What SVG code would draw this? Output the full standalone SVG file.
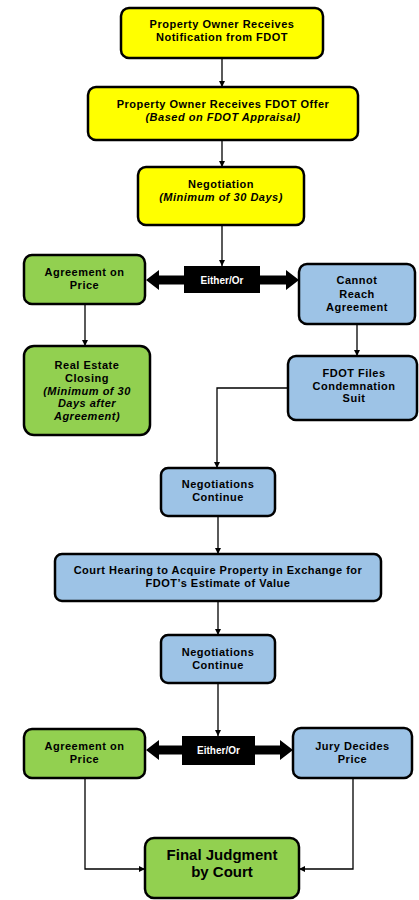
<svg xmlns="http://www.w3.org/2000/svg" width="419" height="900" viewBox="0 0 419 900">
<defs>
<marker id="ah" viewBox="0 0 10 10" refX="10" refY="5" markerWidth="6" markerHeight="6" markerUnits="userSpaceOnUse" orient="auto"><path d="M0,0 L10,5 L0,10 z" fill="#000"/></marker>
</defs>
<style>
.box{stroke:#000;stroke-width:2.5}
.y{fill:#ffff00}.g{fill:#92d050}.b{fill:#9dc3e6}
.t{font-family:"Liberation Sans",Arial,sans-serif;font-weight:bold;font-size:11px;letter-spacing:0.5px;fill:#000;text-anchor:middle}
.i{font-style:italic}
.eo{font-family:"Liberation Sans",Arial,sans-serif;font-weight:bold;font-size:10px;fill:#fff;text-anchor:middle}
.big{font-family:"Liberation Sans",Arial,sans-serif;font-weight:bold;font-size:15px;fill:#000;text-anchor:middle}
.c{fill:none;stroke:#000;stroke-width:1.3;marker-end:url(#ah)}
</style>
<rect width="419" height="900" fill="#fff"/>
<g id="connectors">
<path class="c" d="M222,58 V87"/>
<path class="c" d="M222,140 V167"/>
<path class="c" d="M222,225 V266"/>
<path class="c" d="M85,304 V346"/>
<path class="c" d="M357,324 V356"/>
<path class="c" d="M288,388 H217 V468"/>
<path class="c" d="M218,516 V554"/>
<path class="c" d="M218,601 V635"/>
<path class="c" d="M218,683 V736"/>
<path class="c" d="M85,778 V869 H145"/>
<path class="c" d="M353,778 V869 H299"/>
<polygon points="146,280 159,270 159,275.5 286,275.5 286,270 299,280 286,290 286,284.5 159,284.5 159,290" fill="#000"/>
<polygon points="146,750 159,740 159,745.5 280,745.5 280,740 293,750 280,760 280,754.5 159,754.5 159,760" fill="#000"/>
</g>
<g id="n1"><rect class="box y" x="121" y="8" width="202" height="50" rx="8"/>
<text class="t" x="222" y="28">Property Owner Receives</text>
<text class="t" x="222" y="41">Notification from FDOT</text></g>
<g id="n2"><rect class="box y" x="88" y="87" width="270" height="53" rx="8"/>
<text class="t" x="223" y="108">Property Owner Receives FDOT Offer</text>
<text class="t i" x="223" y="121">(Based on FDOT Appraisal)</text></g>
<g id="n3"><rect class="box y" x="138" y="167" width="166" height="58" rx="8"/>
<text class="t" x="221" y="188">Negotiation</text>
<text class="t i" x="221" y="201">(Minimum of 30 Days)</text></g>
<g id="either1"><rect x="184" y="266" width="76" height="27" fill="#000"/>
<text class="eo" x="222" y="283.5">Either/Or</text></g>
<g id="agree1"><rect class="box g" x="24" y="255" width="121" height="49" rx="8"/>
<text class="t" x="84.5" y="276">Agreement on</text>
<text class="t" x="84.5" y="289">Price</text></g>
<g id="cannot"><rect class="box b" x="299" y="264" width="116" height="60" rx="8"/>
<text class="t" x="357" y="284">Cannot</text>
<text class="t" x="357" y="297.5">Reach</text>
<text class="t" x="357" y="311">Agreement</text></g>
<g id="closing"><rect class="box g" x="24" y="346" width="126" height="89" rx="10"/>
<text class="t" x="87" y="369">Real Estate</text>
<text class="t" x="87" y="381.5">Closing</text>
<text class="t i" x="87" y="394.5">(Minimum of 30</text>
<text class="t i" x="87" y="407">Days after</text>
<text class="t i" x="87" y="419.5">Agreement)</text></g>
<g id="fdot"><rect class="box b" x="288" y="356" width="129" height="64" rx="8"/>
<text class="t" x="354" y="377">FDOT Files</text>
<text class="t" x="354" y="389.5">Condemnation</text>
<text class="t" x="354" y="402">Suit</text></g>
<g id="neg1"><rect class="box b" x="161" y="468" width="114" height="48" rx="7"/>
<text class="t" x="218" y="488">Negotiations</text>
<text class="t" x="218" y="501">Continue</text></g>
<g id="court"><rect class="box b" x="55" y="554" width="326" height="47" rx="7"/>
<text class="t" x="218" y="574">Court Hearing to Acquire Property in Exchange for</text>
<text class="t" x="218" y="587">FDOT’s Estimate of Value</text></g>
<g id="neg2"><rect class="box b" x="161" y="635" width="114" height="48" rx="7"/>
<text class="t" x="218" y="656">Negotiations</text>
<text class="t" x="218" y="669">Continue</text></g>
<g id="either2"><rect x="182" y="736" width="73" height="29" fill="#000"/>
<text class="eo" x="218.5" y="754">Either/Or</text></g>
<g id="agree2"><rect class="box g" x="24" y="729" width="121" height="49" rx="8"/>
<text class="t" x="84.5" y="750">Agreement on</text>
<text class="t" x="84.5" y="763">Price</text></g>
<g id="jury"><rect class="box b" x="293" y="728" width="119" height="50" rx="8"/>
<text class="t" x="352.5" y="750">Jury Decides</text>
<text class="t" x="352.5" y="763">Price</text></g>
<g id="final"><rect class="box g" x="145" y="838" width="154" height="60" rx="9"/>
<text class="big" x="222" y="860">Final Judgment</text>
<text class="big" x="222" y="877">by Court</text></g>
</svg>
